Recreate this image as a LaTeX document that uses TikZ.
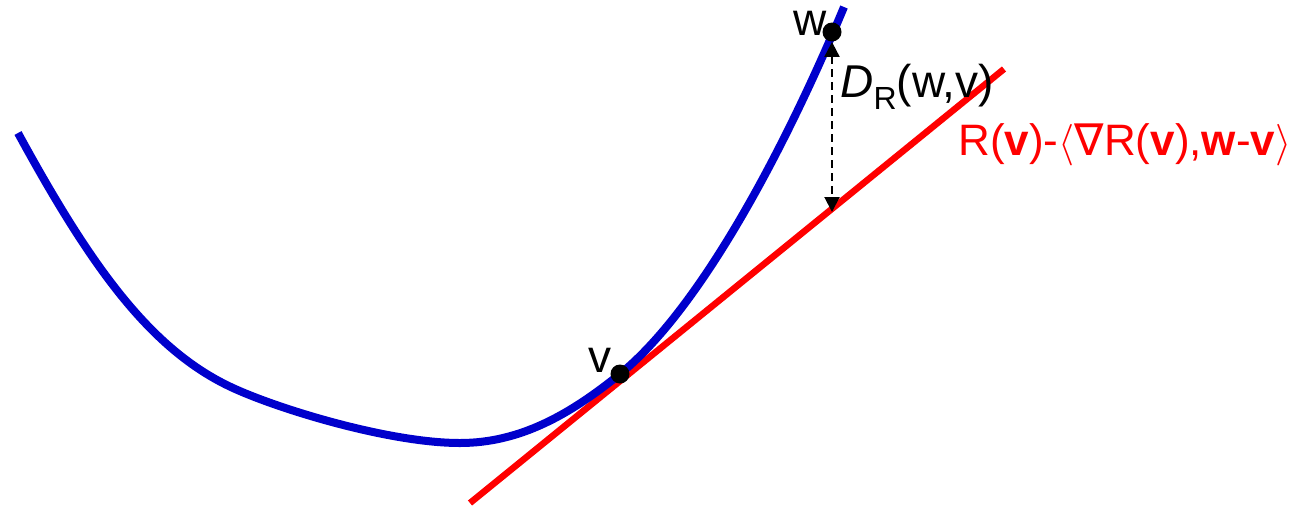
\documentclass[tikz,border=0pt]{standalone}
\usepackage{fontspec}
\setmainfont{Liberation Sans}
\newfontfamily\symbolfont{DejaVu Sans}
\usetikzlibrary{arrows.meta}
\definecolor{curve}{RGB}{0,0,204}
\definecolor{tangent}{RGB}{255,0,0}

\begin{document}
\begin{tikzpicture}[
  x=0.5pt, y=-0.5pt,
  every node/.style={font=\fontsize{23}{27}\selectfont, inner sep=0pt, anchor=base west},
  dot/.style={circle, fill=black, minimum size=9.5pt, anchor=center},
  gap/.style={line width=1pt, dash pattern=on 4pt off 2.5pt,
    {Triangle[width=7.5pt,length=7.5pt]}-{Triangle[width=7.5pt,length=7.5pt]}},
]
\useasboundingbox (0,0) rectangle (1297,505);

\draw[tangent, line width=3.25pt] (470,503) -- (1004,69);
\draw[curve, line width=4pt] (18,133)
  .. controls (90,265) and (150,350) .. (233,388)
  .. controls (280,409.6) and (390,443) .. (460,443)
  .. controls (520,443) and (570,414.5) .. (620,374)
  .. controls (700,309) and (784,151) .. (844,7);

\node[dot] (w) at (832,32) {};
\node[dot] (v) at (620,374) {};
\coordinate (foot) at (832,212);

\node (wname) at (793,35) {w};
\node (vname) at (588,372) {v};
\node (dist) at (840,97) {\textit{D}\raisebox{-6pt}{\fontsize{16}{16}\selectfont R}(w,v)};
\node[text=tangent, font=\fontsize{22}{26}\selectfont] (plane) at (958,155)
  {R(\textbf{v})-$\langle${\symbolfont\char"2207}R(\textbf{v}),\textbf{w}-\textbf{v}$\rangle$};

\draw[gap] (w) -- (foot);

\end{tikzpicture}
\end{document}
